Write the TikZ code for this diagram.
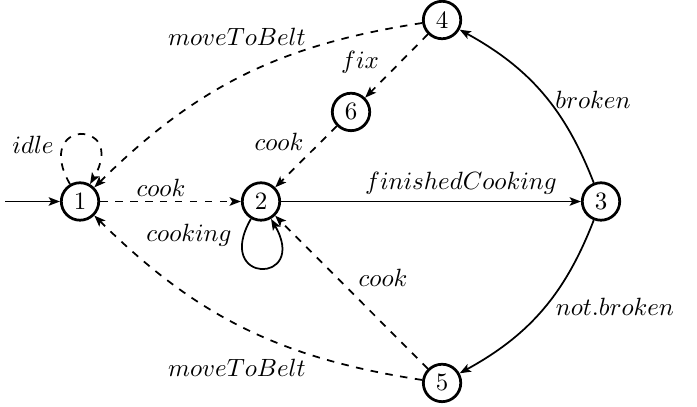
\documentclass[tikz,border=0pt]{standalone}
\usetikzlibrary{arrows.meta}
\tikzset{
  statenode/.style={draw, circle, line width=1.1pt, minimum size=15pt, inner sep=0pt},
  trans/.style={-{Stealth[length=4.5pt, width=3.4pt, inset=1pt]}, line width=0.7pt},
}
\begin{document}
\begin{tikzpicture}
	%%%%% START %%%%%
	\useasboundingbox (-1.127,-2.894) rectangle (8.69,2.838);

	\node[statenode] (q1) at (0, 0) {1};
	\node[statenode] (q2) at (2.549, 0) {2};
	\node[statenode] (q3) at (7.338, 0) {3};
	\node[statenode] (q4) at (5.099, 2.556) {4};
	\node[statenode] (q5) at (5.099, -2.556) {5};
	\node[statenode] (q6) at (3.817, 1.261) {6};
	\coordinate (init) at (-1.056, 0);

	\draw[trans] (init) -- (q1);
	\draw[trans, dashed] (q1) -- (q2);
	\draw[trans] (q2) -- (q3);
	\draw[trans] (q3) to[bend right=20] (q4);
	\draw[trans] (q3) to[bend left=20] (q5);
	\draw[trans, dashed] (q4) to[bend right=18] (q1);
	\draw[trans, dashed] (q5) to[bend left=18] (q1);
	\draw[trans, dashed] (q4) -- (q6);
	\draw[trans, dashed] (q6) -- (q2);
	\draw[trans, dashed] (q5) -- (q2);

	% loops
	\draw[trans, dashed] (q1.120) .. controls +(120:1.07) and +(60:1.07) .. (q1.60);
	\draw[trans] (q2.240) .. controls +(240:1.07) and +(300:1.07) .. (q2.300);

	% labels
	\node (lidle) at (-0.662, 0.796) {$idle$};
	\node (lcook1) at (1.141, 0.19) {$cook$};
	\node (lcooking) at (1.535, -0.472) {$cooking$};
	\node (lfinished) at (5.366, 0.26) {$finishedCooking$};
	\node (lmove1) at (2.211, 2.317) {$moveToBelt$};
	\node (lfix) at (3.944, 1.965) {$fix$};
	\node (lcook2) at (2.803, 0.838) {$cook$};
	\node (lbroken) at (7.225, 1.43) {$broken$};
	\node (lnotbroken) at (7.535, -1.486) {$not.broken$};
	\node (lmove2) at (2.211, -2.345) {$moveToBelt$};
	\node (lcook3) at (4.268, -1.077) {$cook$};
	%%%%% END %%%%%
\end{tikzpicture}
\end{document}
